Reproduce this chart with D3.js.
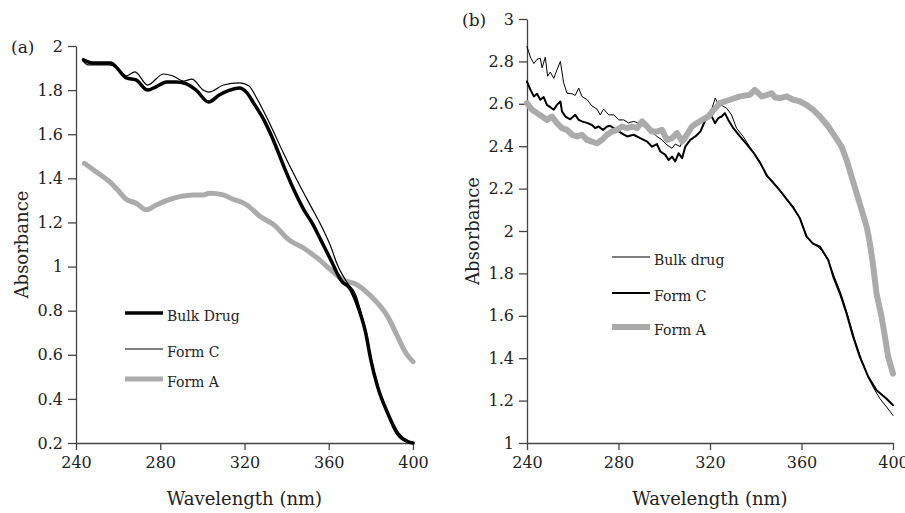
<!DOCTYPE html>
<html>
<head>
<meta charset="utf-8">
<script src="https://cdn.jsdelivr.net/npm/d3@7"></script>
<style>
  body { margin: 0; background: #fff; }
  .axis path, .axis line { stroke: #444; stroke-width: 1.3; }
  .axis text { fill: #222; }
</style>
</head>
<body>
<div id="chart"></div>
<script>
// panel (a) data: [wavelength nm, absorbance]
const bulkA = [[243.5,1.937],[248,1.923],[256.6,1.923],[259,1.905],[264,1.855],[268.5,1.846],[274,1.80],[278,1.815],[283,1.837],[287.6,1.837],[292,1.83],[297,1.80],[303,1.746],[308,1.778],[313,1.80],[317.6,1.81],[321,1.79],[324.4,1.74],[329.2,1.665],[334,1.566],[338.7,1.453],[343.5,1.347],[348.2,1.257],[352.2,1.196],[356.2,1.121],[361,1.03],[365.7,0.939],[370.5,0.894],[374.4,0.803],[377.6,0.697],[380,0.576],[383.2,0.455],[388,0.335],[392.7,0.244],[397.5,0.206],[400,0.2]];
const formCA = [[243.5,1.93],[245.7,1.914],[255.7,1.914],[259,1.905],[264,1.865],[268,1.883],[274,1.823],[281.5,1.873],[286,1.864],[291,1.841],[295,1.85],[300.5,1.80],[303,1.791],[310,1.823],[317.6,1.833],[322,1.82],[326,1.76],[332.4,1.64],[338.7,1.51],[345,1.39],[351.4,1.275],[356.2,1.19],[361,1.09],[364,1.01],[368.9,0.925],[372.9,0.87],[374.8,0.81],[377.8,0.70],[380.2,0.58],[383.4,0.46],[388,0.33],[391.5,0.25],[395.7,0.21],[400,0.2]];
const formAA = [[244,1.468],[249.5,1.43],[255.9,1.385],[259.8,1.347],[263.8,1.305],[268.6,1.287],[273.3,1.257],[277.3,1.275],[282.9,1.299],[289.2,1.317],[295.6,1.325],[300.3,1.325],[303.5,1.332],[309.9,1.325],[314.6,1.305],[318.1,1.294],[321.3,1.278],[327.6,1.226],[334,1.189],[341.1,1.121],[348.2,1.083],[354.6,1.038],[361,0.985],[365.7,0.947],[368.9,0.932],[372,0.924],[376.8,0.894],[383.2,0.834],[388,0.773],[392.7,0.682],[396.7,0.607],[400,0.569]];

// panel (b) data
const bulkB = [[240,2.87],[241.5,2.82],[243,2.79],[244.4,2.81],[245.8,2.815],[246.6,2.77],[248,2.82],[249,2.73],[250.2,2.75],[251.7,2.72],[253.1,2.76],[254.6,2.80],[256,2.70],[257.5,2.65],[259.7,2.647],[261.1,2.64],[262.6,2.674],[264,2.635],[266.2,2.62],[268.4,2.59],[270.6,2.575],[272,2.548],[273.5,2.575],[275.7,2.548],[277.9,2.548],[280.1,2.524],[282.3,2.524],[284.4,2.51],[286.6,2.517],[289.5,2.506],[292.5,2.485],[294.6,2.469],[296.8,2.446],[299,2.43],[301.2,2.406],[303.4,2.39],[304.8,2.41],[307,2.398],[308.5,2.446],[309.9,2.469],[311.4,2.493],[313.6,2.51],[315.8,2.524],[318.7,2.548],[320.9,2.58],[322.3,2.627],[323.6,2.60],[325.5,2.59],[327.3,2.579],[329.4,2.548],[331.6,2.485],[334.5,2.446],[338.2,2.383],[341.8,2.327],[344.7,2.257],[346.9,2.241],[350.6,2.194],[353.5,2.147],[356.4,2.115],[359.3,2.06],[362.2,1.97],[366,1.935],[368.8,1.91],[371.7,1.86],[374.5,1.78],[377.4,1.70],[380.3,1.60],[383.2,1.49],[386,1.40],[389.2,1.31],[391.5,1.26],[394.3,1.209],[397.2,1.17],[400,1.13]];
const formCB = [[240,2.705],[241.5,2.666],[243,2.635],[244.4,2.647],[245.8,2.619],[247.3,2.632],[248.7,2.595],[250.2,2.584],[251.7,2.572],[253.1,2.595],[254.6,2.611],[255.3,2.564],[256.8,2.54],[258.9,2.527],[261.1,2.548],[262.6,2.524],[264,2.517],[266.2,2.51],[268.4,2.50],[269.9,2.485],[271.3,2.493],[273.2,2.477],[275,2.493],[276.4,2.496],[280,2.47],[283.7,2.446],[286.6,2.454],[289.5,2.438],[292.5,2.422],[294.6,2.398],[296.8,2.41],[298.3,2.375],[300.5,2.359],[301.9,2.335],[303.4,2.351],[304.8,2.328],[306.3,2.367],[307.8,2.343],[309.2,2.398],[311.4,2.43],[313.6,2.446],[315.8,2.469],[317.8,2.52],[320,2.556],[322.2,2.509],[323.6,2.532],[325.1,2.54],[326.5,2.556],[328,2.524],[330.2,2.485],[333.1,2.446],[336,2.41],[339,2.37],[342,2.32],[345,2.26],[347,2.235],[350.6,2.19],[353.5,2.15],[356.4,2.11],[359.3,2.06],[362.2,1.975],[365,1.94],[368.1,1.926],[371.7,1.863],[373.9,1.784],[376.8,1.705],[379.7,1.611],[382.6,1.50],[385.5,1.406],[389.2,1.312],[392.8,1.249],[397.2,1.209],[400,1.178]];
const formAB = [[240,2.603],[242.2,2.572],[244.4,2.556],[246.6,2.54],[248.7,2.524],[250.9,2.54],[253.1,2.509],[255.3,2.485],[257.5,2.477],[259.7,2.454],[261.9,2.446],[264,2.454],[266.2,2.43],[268.4,2.422],[270.6,2.414],[272.8,2.43],[275,2.454],[277.2,2.469],[279.3,2.477],[281.5,2.493],[283.7,2.485],[285.9,2.493],[288.1,2.485],[290.3,2.517],[292.5,2.493],[294.6,2.469],[296.8,2.469],[299,2.477],[301.2,2.43],[303.4,2.438],[305.6,2.461],[307.8,2.422],[309.9,2.454],[312.1,2.493],[314.3,2.509],[316.5,2.524],[319.4,2.54],[321.5,2.57],[324.3,2.603],[328.7,2.619],[333.1,2.635],[337.5,2.643],[339.6,2.666],[342.6,2.635],[344.5,2.64],[346.9,2.65],[348.5,2.63],[350.6,2.627],[353.5,2.635],[356.4,2.619],[359.3,2.611],[362.2,2.595],[365.1,2.571],[368.1,2.54],[371.7,2.493],[374.6,2.446],[377.5,2.398],[379.7,2.335],[381.9,2.257],[384.1,2.178],[386.3,2.1],[388.5,2.02],[389.9,1.942],[391.4,1.831],[392.8,1.705],[395,1.595],[396.5,1.5],[397.9,1.406],[400,1.327]];

const xTicks = [240, 280, 320, 360, 400];
const yTicksA = [0.2, 0.4, 0.6, 0.8, 1, 1.2, 1.4, 1.6, 1.8, 2];
const yTicksB = [1, 1.2, 1.4, 1.6, 1.8, 2, 2.2, 2.4, 2.6, 2.8, 3];

const FONT = "'DejaVu Serif', serif";

const svg = d3.select("#chart").append("svg")
    .attr("width", 905)
    .attr("height", 513)
    .attr("font-family", FONT);

const gray = "#ababab";

function drawPanel(opt) {
    const x = d3.scaleLinear().domain([240, 400]).range(opt.xRange);
    const y = d3.scaleLinear().domain(opt.yDomain).range(opt.yRange);

    // axes
    svg.append("g")
        .attr("class", "axis")
        .attr("transform", `translate(0,${opt.yRange[0]})`)
        .call(d3.axisBottom(x).tickValues(xTicks).tickSize(7).tickSizeOuter(0).tickPadding(7))
        .attr("font-family", FONT)
        .attr("font-size", 16);

    svg.append("g")
        .attr("class", "axis")
        .attr("transform", `translate(${opt.xRange[0]},0)`)
        .call(d3.axisLeft(y).tickValues(opt.yTicks).tickSize(8).tickSizeOuter(0).tickPadding(5)
            .tickFormat(d => String(+d.toFixed(1))))
        .attr("font-family", FONT)
        .attr("font-size", 16);

    const line = d3.line()
        .x(d => x(d[0]))
        .y(d => y(d[1]))
        .curve(opt.curve);

    opt.series.forEach(s => {
        svg.append("path")
            .datum(s.data)
            .attr("fill", "none")
            .attr("stroke", s.color)
            .attr("stroke-width", s.width)
            .attr("stroke-linejoin", "round")
            .attr("stroke-linecap", "round")
            .attr("d", line);
    });

    // legend
    opt.legend.forEach((s, i) => {
        const ly = opt.legendY[i];
        svg.append("line")
            .attr("x1", opt.legendX).attr("x2", opt.legendX + 38)
            .attr("y1", ly).attr("y2", ly)
            .attr("stroke", s.color)
            .attr("stroke-width", s.width);
        svg.append("text")
            .attr("x", opt.legendX + 42)
            .attr("y", ly + 8)
            .attr("font-size", "14px")
            .attr("fill", "#222")
            .text(s.name);
    });

    // axis titles
    svg.append("text")
        .attr("x", (opt.xRange[0] + opt.xRange[1]) / 2)
        .attr("y", 505)
        .attr("text-anchor", "middle")
        .attr("font-size", "18px")
        .attr("fill", "#222")
        .text("Wavelength (nm)");

    svg.append("text")
        .attr("transform", `translate(${opt.yTitleX},${(opt.yRange[0] + opt.yRange[1]) / 2}) rotate(-90)`)
        .attr("text-anchor", "middle")
        .attr("font-size", "18px")
        .attr("fill", "#222")
        .text("Absorbance");

    svg.append("text")
        .attr("x", opt.tag[0])
        .attr("y", opt.tag[1])
        .attr("font-size", "17px")
        .attr("fill", "#222")
        .text(opt.tag[2]);
}

// (a) gray under the black lines
const aBulk = { name: "Bulk Drug", data: bulkA, color: "#000", width: 3.5 };
const aFormC = { name: "Form C", data: formCA, color: "#000", width: 1.2 };
const aFormA = { name: "Form A", data: formAA, color: gray, width: 5 };

drawPanel({
    xRange: [76, 413], yDomain: [0.2, 2], yRange: [443, 46], yTicks: yTicksA,
    curve: d3.curveMonotoneX,
    series: [aFormA, aBulk, aFormC],
    legend: [aBulk, aFormC, aFormA],
    legendX: 125, legendY: [313, 349, 379],
    yTitleX: 28, tag: [11, 53, "(a)"]
});

// (b) gray drawn on top
const bBulk = { name: "Bulk drug", data: bulkB, color: "#000", width: 1 };
const bFormC = { name: "Form C", data: formCB, color: "#000", width: 2 };
const bFormA = { name: "Form A", data: formAB, color: gray, width: 6 };

drawPanel({
    xRange: [527, 893], yDomain: [1, 3], yRange: [443, 19], yTicks: yTicksB,
    curve: d3.curveLinear,
    series: [bBulk, bFormC, bFormA],
    legend: [bBulk, bFormC, bFormA],
    legendX: 612, legendY: [257, 293, 327],
    yTitleX: 479, tag: [462, 26, "(b)"]
});
</script>
</body>
</html>
